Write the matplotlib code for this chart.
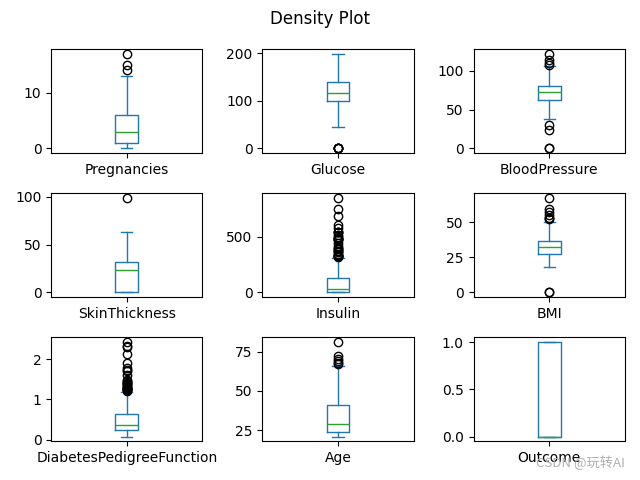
import matplotlib
matplotlib.use("Agg")
import matplotlib.pyplot as plt

# five-number summaries (whisker low, q1, median, q3, whisker high)
columns = ["Pregnancies", "Glucose", "BloodPressure", "SkinThickness", "Insulin",
           "BMI", "DiabetesPedigreeFunction", "Age", "Outcome"]
whislo = [0, 44, 38, 0, 0, 18.2, 0.078, 21, 0]
q1 = [1, 99, 62, 0, 0, 27.3, 0.244, 24, 0]
med = [3, 117, 72, 23, 30.5, 32.0, 0.3725, 29, 0]
q3 = [6, 140.25, 80, 32, 127.25, 36.6, 0.626, 41, 1]
whishi = [13, 199, 106, 63, 310, 50.0, 1.191, 66, 1]

fliers = [
    [14, 15, 17],
    [0, 0, 0, 0, 0],
    [0, 0.5, 24, 30, 108, 110, 114, 122],
    [99],
    [321, 325, 326, 328, 330, 335, 342, 360, 370, 375, 387, 392, 400, 415,
     440, 465, 474, 478, 480, 485, 495, 510, 540, 543, 545, 579, 600, 680, 744, 846],
    [0, 0.2, 52.3, 52.9, 53.2, 55.0, 57.3, 59.4, 67.1],
    [1.213, 1.222, 1.224, 1.251, 1.258, 1.268, 1.282, 1.292, 1.318, 1.321, 1.353,
     1.390, 1.394, 1.400, 1.441, 1.461, 1.476, 1.600, 1.698, 1.731, 1.781, 1.893,
     2.137, 2.288, 2.329, 2.420],
    [67, 68, 69, 70, 72, 81],
    [],
]

fig, axes = plt.subplots(3, 3, figsize=(6.4, 4.8), dpi=100)
for i, ax in enumerate(axes.flat):
    stats = [dict(whislo=whislo[i], q1=q1[i], med=med[i], q3=q3[i],
                  whishi=whishi[i], fliers=fliers[i], label=columns[i])]
    ax.bxp(stats,
           boxprops=dict(color="#1f77b4"),
           whiskerprops=dict(color="#1f77b4"),
           capprops=dict(color="#1f77b4"),
           medianprops=dict(color="#2ca02c"),
           flierprops=dict(marker="o", markerfacecolor="none", markeredgecolor="k"))
    ax.set_xlim(0.5, 1.5)

fig.suptitle("Density Plot")
plt.tight_layout()
fig.text(0.977, 0.035, "CSDN @玩转AI", ha="right", va="center", fontsize=9.5,
         color="#b0b0b0", family=["Noto Sans CJK SC", "DejaVu Sans"])
plt.savefig("out.png", dpi=100)
